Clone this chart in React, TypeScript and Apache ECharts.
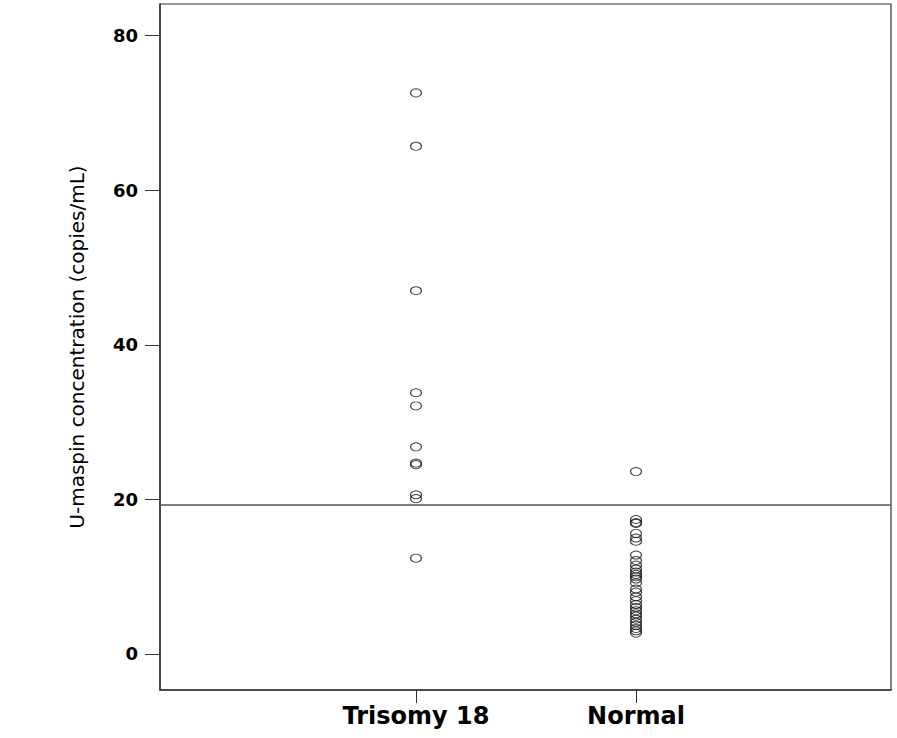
import React, { useEffect, useRef } from "react";
import * as echarts from "echarts";

const groups = ["Trisomy 18", "Normal"];
const groupPositions = [1, 2];
const trisomyValues = [72.6, 65.7, 47.0, 33.8, 32.1, 26.8, 24.7, 24.5, 20.6, 20.1, 12.4];
const normalValues = [
  23.6, 17.4, 17.0, 16.9, 15.6, 15.0, 14.6, 12.8, 12.1, 11.5, 11.0, 10.6, 10.3, 10.0, 9.7,
  9.2, 8.4, 8.0, 7.4, 6.9, 6.4, 6.0, 5.6, 5.2, 4.9, 4.5, 4.1, 3.7, 3.3, 3.0, 2.7,
];
const yTicks = [0, 20, 40, 60, 80];
const cutoff = 19.3;
const yName = "U-maspin concentration (copies/mL)";

const FONT = "'DejaVu Sans', 'Liberation Sans', Arial, sans-serif";

export default function App() {
  const ref = useRef<HTMLDivElement>(null);
  useEffect(() => {
    if (!ref.current) return;
    const chart = echarts.init(ref.current, null, { renderer: "svg" });
    const pts = (pos: number, vals: number[]) => vals.map((v) => [pos, v]);
    chart.setOption({
      animation: false,
      grid: {
        left: 160,
        right: 6,
        top: 4,
        bottom: 48,
        show: true,
        borderColor: "#333",
        borderWidth: 1.2,
        backgroundColor: "#fff",
      },
      xAxis: {
        type: "value",
        min: -0.1636,
        max: 3.159,
        splitLine: { show: false },
        axisLine: { show: true, onZero: false, lineStyle: { color: "#333", width: 1.5 } },
        axisTick: {
          show: true,
          length: 13,
          customValues: groupPositions,
          lineStyle: { color: "#333", width: 1 },
        },
        axisLabel: {
          customValues: groupPositions,
          formatter: (v: number) => groups[groupPositions.indexOf(v)] ?? "",
          fontFamily: FONT,
          fontWeight: "bold",
          fontSize: 24,
          color: "#000",
          margin: 14,
        },
      },
      yAxis: {
        type: "value",
        min: -4.66,
        max: 84.1,
        name: yName,
        nameLocation: "middle",
        nameRotate: 90,
        nameGap: 73,
        nameTextStyle: { fontFamily: FONT, fontSize: 20, color: "#000" },
        splitLine: { show: false },
        axisLine: { show: true, onZero: false, lineStyle: { color: "#333", width: 1.5 } },
        axisTick: {
          show: true,
          length: 15,
          customValues: yTicks,
          lineStyle: { color: "#333", width: 1 },
        },
        axisLabel: {
          customValues: yTicks,
          fontFamily: FONT,
          fontWeight: "bold",
          fontSize: 18,
          color: "#000",
          margin: 22,
        },
      },
      series: [
        {
          type: "scatter",
          data: pts(groupPositions[0], trisomyValues),
          symbol: "circle",
          symbolSize: [11, 8],
          itemStyle: { color: "transparent", borderColor: "#111", borderWidth: 1.1 },
          markLine: {
            silent: true,
            symbol: "none",
            label: { show: false },
            lineStyle: { color: "#555", width: 1.5, type: "solid" },
            data: [{ yAxis: cutoff }],
          },
        },
        {
          type: "scatter",
          data: pts(groupPositions[1], normalValues),
          symbol: "circle",
          symbolSize: [11, 8],
          itemStyle: { color: "transparent", borderColor: "#111", borderWidth: 1.1 },
        },
      ],
    });
    return () => chart.dispose();
  }, []);
  return <div ref={ref} style={{ width: 897, height: 738, position: "absolute", left: 0, top: 0 }} />;
}
